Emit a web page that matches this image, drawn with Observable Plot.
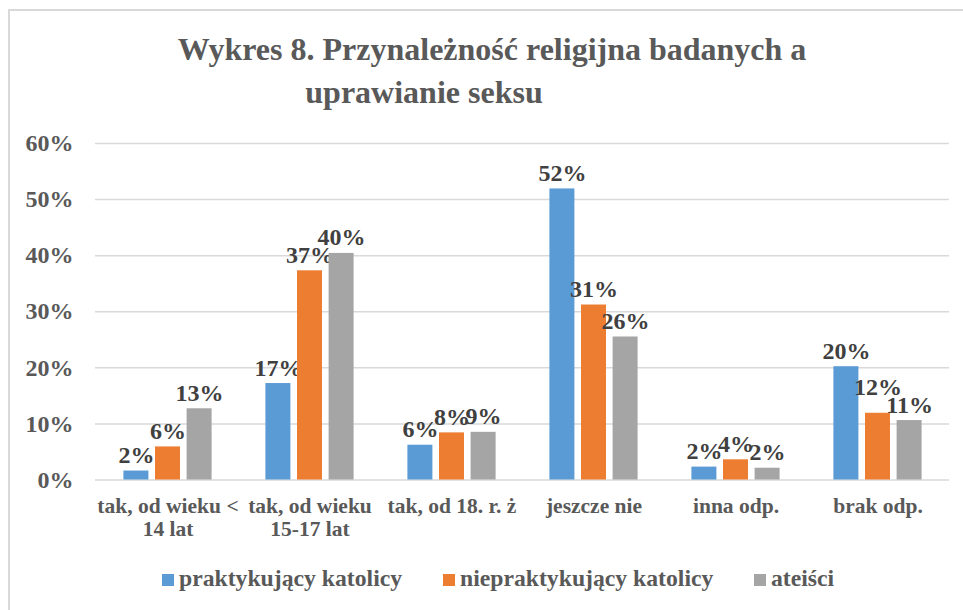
<!DOCTYPE html>
<html>
<head>
<meta charset="utf-8">
<script src="https://cdn.jsdelivr.net/npm/d3@7"></script>
<script src="https://cdn.jsdelivr.net/npm/@observablehq/plot@0.6"></script>
<style>
  html, body { margin: 0; padding: 0; background: #fff; }
  #wrap { position: relative; width: 963px; height: 610px; overflow: hidden; font-family: "Liberation Serif", "Times New Roman", serif; }
  #frame { position: absolute; left: 8px; top: 9px; width: 1000px; height: 700px; border-left: 2px solid #d9d9d9; border-top: 2px solid #d9d9d9; }
  .title { position: absolute; font-size: 32px; font-weight: bold; color: #595959; line-height: 1; white-space: nowrap; transform: translateX(-50%); }
  #chart { position: absolute; left: 0; top: 0; }
  #chart svg text { font-family: "Liberation Serif", "Times New Roman", serif; }
  .leg { position: absolute; top: 567px; font-size: 23.7px; font-weight: bold; color: #595959; line-height: 1; white-space: nowrap; display: flex; align-items: baseline; font-family: "Liberation Serif", "Times New Roman", serif; }
  .sw { display: inline-block; width: 12px; height: 12px; margin-right: 5px; }
</style>
</head>
<body>
<div id="wrap">
  <div id="frame"></div>
  <div class="title" style="left:492px; top:33px;">Wykres 8. Przynależność religijna badanych a</div>
  <div class="title" style="left:424px; top:76px;">uprawianie seksu</div>
  <div id="chart"></div>
  <div id="legend"></div>
</div>
<script>
const categories = ["tak, od wieku <\n14 lat", "tak, od wieku\n15-17 lat", "tak, od 18. r. ż", "jeszcze nie", "inna odp.", "brak odp."];
const seriesNames = ["praktykujący katolicy", "niepraktykujący katolicy", "ateiści"];
const seriesColors = ["#5b9bd5", "#ed7d31", "#a5a5a5"];
const praktykujacy = [1.6, 17.2, 6.2, 51.9, 2.3, 20.2];
const niepraktykujacy = [5.9, 37.3, 8.4, 31.2, 3.6, 11.9];
const ateisci = [12.7, 40.4, 8.5, 25.5, 2.1, 10.6];
const yTicks = [0, 10, 20, 30, 40, 50, 60];

const seriesValues = [praktykujacy, niepraktykujacy, ateisci];
const font = '"Liberation Serif", "Times New Roman", serif';
const W = 963, H = 610, mL = 95, mR = 14, mT = 143, mB = 130.5;
const yMax = 60;
const labelSize = 24;
const step = (W - mL - mR) / categories.length;
const barOffset = 31.6;
const offsets = [-barOffset, 0, barOffset];
const pxPerUnit = (H - mT - mB) / yMax;

// label text and simple collision avoidance (like the spreadsheet's label placement)
const ctx = document.createElement("canvas").getContext("2d");
ctx.font = `bold ${labelSize}px ${font}`;
const fmt = v => Math.round(v) + "%";
const labelY = seriesValues.map(vals => vals.slice());
categories.forEach((c, i) => {
  for (let s = seriesValues.length - 2; s >= 0; s--) {
    const a = labelY[s][i], b = labelY[s + 1][i];
    const wa = ctx.measureText(fmt(seriesValues[s][i])).width;
    const wb = ctx.measureText(fmt(seriesValues[s + 1][i])).width;
    const hOverlap = (wa + wb) / 2 - barOffset;
    const vGapPx = Math.abs(a - b) * pxPerUnit;
    if (hOverlap > 6 && vGapPx < 0.7 * labelSize) {
      labelY[s][i] = Math.max(a, b + (0.75 * labelSize) / pxPerUnit);
    }
  }
});

const marks = [
  Plot.ruleY(yTicks, {stroke: "#d9d9d9", strokeWidth: 1.5})
];
seriesValues.forEach((vals, s) => {
  const rows = categories.map((c, i) => ({cat: c, value: vals[i], ly: labelY[s][i]}));
  marks.push(Plot.barY(rows, {x: "cat", y: "value", fill: seriesColors[s], dx: offsets[s]}));
  marks.push(Plot.text(rows, {x: "cat", y: "ly", text: d => fmt(d.value), dx: offsets[s], dy: -8, lineAnchor: "bottom", fontSize: labelSize, fontWeight: "bold", fill: "#404040"}));
});
marks.push(Plot.axisY({ticks: yTicks, tickFormat: d => d + "%", tickSize: 0, tickPadding: 22, fontSize: 24, fontWeight: "bold", fill: "#595959", label: null}));
marks.push(Plot.axisX({tickSize: 0, tickPadding: 16, fontSize: 21.5, fontWeight: "bold", fill: "#595959", lineHeight: 1.1, label: null}));

const chart = Plot.plot({
  width: W,
  height: H,
  marginLeft: mL,
  marginRight: mR,
  marginTop: mT,
  marginBottom: mB,
  style: {fontFamily: font, background: "transparent", overflow: "visible"},
  x: {domain: categories, paddingInner: 1 - 25 / step, paddingOuter: (1 - 25 / step) / 2, label: null},
  y: {domain: [0, yMax], label: null},
  marks
});
document.getElementById("chart").appendChild(chart);

const legendPos = [162, 443, 754];
const legend = document.getElementById("legend");
seriesNames.forEach((name, i) => {
  const item = document.createElement("div");
  item.className = "leg";
  item.style.left = legendPos[i] + "px";
  const sw = document.createElement("span");
  sw.className = "sw";
  sw.style.background = seriesColors[i];
  item.appendChild(sw);
  item.appendChild(document.createTextNode(name));
  legend.appendChild(item);
});
</script>
</body>
</html>
